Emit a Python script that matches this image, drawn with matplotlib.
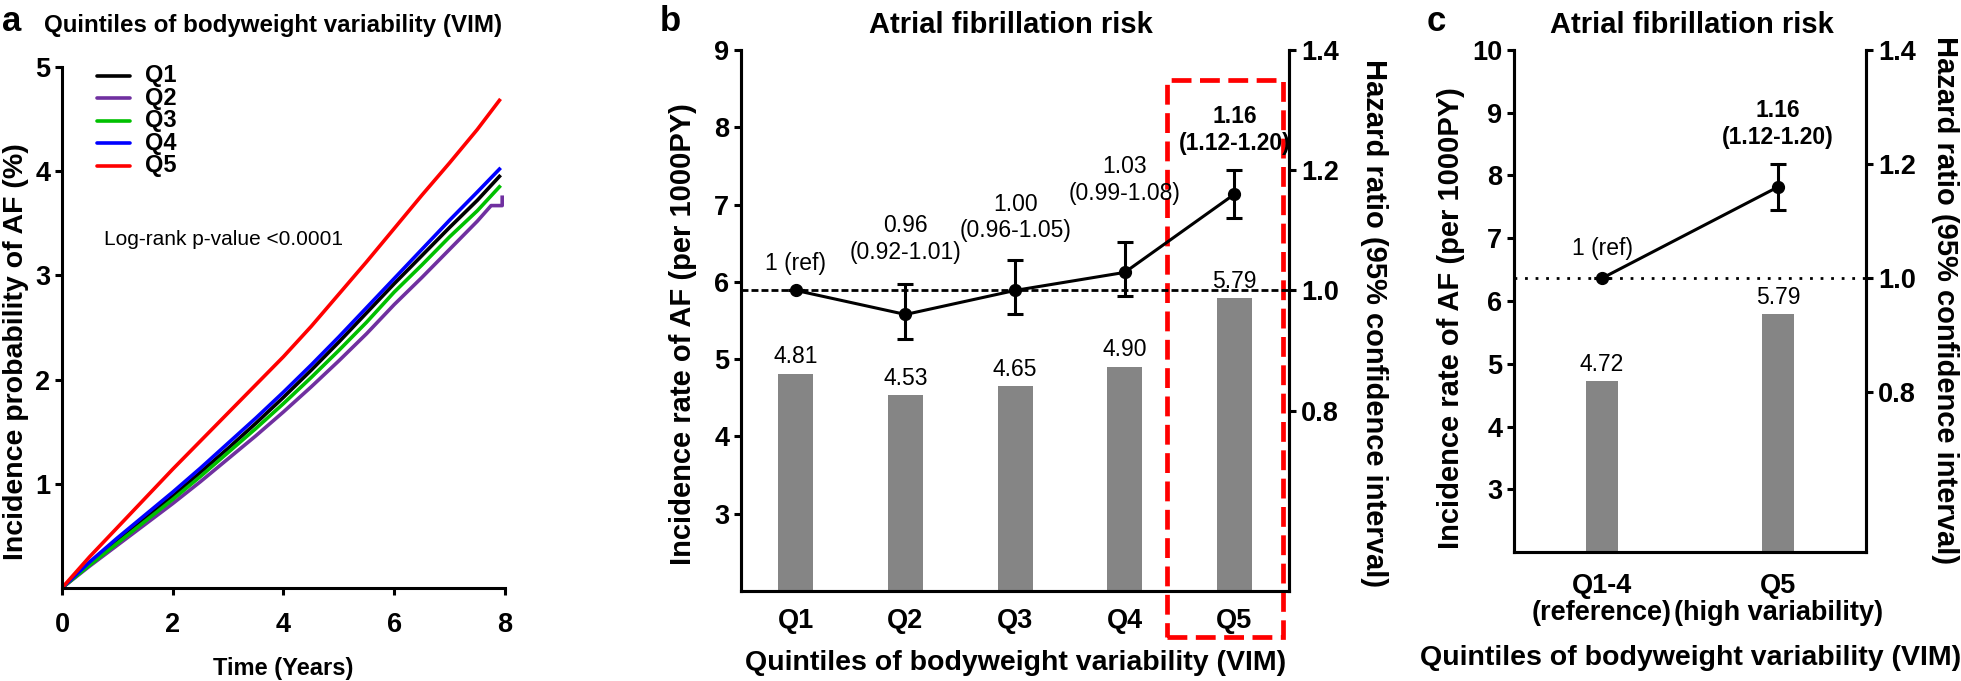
import matplotlib
matplotlib.use("Agg")
import matplotlib.pyplot as plt
from matplotlib.patches import Rectangle

# ---- panel a: cumulative incidence (%)
years = [0, 0.5, 1, 1.5, 2, 2.5, 3, 3.5, 4, 4.5, 5, 5.5, 6, 6.5, 7, 7.5, 7.9]
q1_inc = [0, 0.23, 0.45, 0.67, 0.88, 1.11, 1.34, 1.58, 1.83, 2.09, 2.36, 2.64, 2.92, 3.19, 3.46, 3.72, 3.95]
q3_inc = [0, 0.22, 0.43, 0.64, 0.85, 1.07, 1.30, 1.53, 1.77, 2.02, 2.28, 2.55, 2.84, 3.10, 3.37, 3.62, 3.85]
q4_inc = [0, 0.25, 0.48, 0.70, 0.92, 1.15, 1.39, 1.63, 1.88, 2.14, 2.41, 2.69, 2.97, 3.25, 3.53, 3.80, 4.02]
q5_inc = [0, 0.30, 0.58, 0.86, 1.14, 1.41, 1.68, 1.95, 2.22, 2.51, 2.82, 3.13, 3.45, 3.77, 4.08, 4.40, 4.68]
q2_years = [0, 0.5, 1, 1.5, 2, 2.5, 3, 3.5, 4, 4.5, 5, 5.5, 6, 6.5, 7, 7.5, 7.75, 7.95, 7.95]
q2_inc = [0, 0.21, 0.41, 0.61, 0.81, 1.02, 1.24, 1.46, 1.69, 1.93, 2.18, 2.44, 2.72, 2.98, 3.25, 3.52, 3.67, 3.67, 3.75]
curve_names = ["Q1", "Q2", "Q3", "Q4", "Q5"]
curve_colors = ["black", "#7030a0", "#00c000", "#0000ff", "#ff0000"]

# ---- panel b: quintiles
quintiles = ["Q1", "Q2", "Q3", "Q4", "Q5"]
rate_b = [4.81, 4.53, 4.65, 4.90, 5.79]
hr_b = [1.00, 0.96, 1.00, 1.03, 1.16]
hr_lo_b = [1.00, 0.92, 0.96, 0.99, 1.12]
hr_hi_b = [1.00, 1.01, 1.05, 1.08, 1.20]
hr_text_b = ["1 (ref)", "0.96\n(0.92-1.01)", "1.00\n(0.96-1.05)", "1.03\n(0.99-1.08)", "1.16\n(1.12-1.20)"]

# ---- panel c: Q1-4 vs Q5
groups_c = ["Q1-4\n(reference)", "Q5\n(high variability)"]
rate_c = [4.72, 5.79]
hr_c = [1.00, 1.16]
hr_lo_c = [1.00, 1.12]
hr_hi_c = [1.00, 1.20]
hr_text_c = ["1 (ref)", "1.16\n(1.12-1.20)"]

plt.rcParams["font.family"] = ["Liberation Sans", "DejaVu Sans"]
plt.rcParams["axes.linewidth"] = 2.2

fig = plt.figure(figsize=(19.61, 6.81), dpi=100)


def style_ticks(ax, size=19.5):
    ax.tick_params(width=2.2, length=5, direction="out")
    for lab in ax.get_xticklabels() + ax.get_yticklabels():
        lab.set_fontweight("bold")
        lab.set_fontsize(size)


def place_ylabel(ax, x, y):
    ax.yaxis.label.set_verticalalignment("center")
    ax.yaxis.set_label_coords(x, y)


# ================= panel a
ax_a = fig.add_axes([0.0316, 0.1366, 0.2259, 0.765])
for t, v, col in zip([years, q2_years, years, years, years],
                     [q1_inc, q2_inc, q3_inc, q4_inc, q5_inc], curve_colors):
    ax_a.plot(t, v, color=col, lw=2.6)
ax_a.set_xlim(0, 8)
ax_a.set_ylim(0, 5)
ax_a.set_xticks([0, 2, 4, 6, 8])
ax_a.set_yticks([1, 2, 3, 4, 5])
ax_a.spines[["top", "right"]].set_visible(False)
style_ticks(ax_a)
ax_a.tick_params(axis="x", pad=12)
ax_a.set_xlabel("Time (Years)", fontsize=17, fontweight="bold", labelpad=14)
ax_a.set_ylabel("Incidence probability of AF (%)", fontsize=20.5, fontweight="bold")
place_ylabel(ax_a, -0.104, 0.453)

# legend drawn as short colour strokes with labels
for i, (name, col) in enumerate(zip(curve_names, curve_colors)):
    yy = 0.983 - i * 0.0432
    ax_a.plot([0.079, 0.153], [yy, yy], color=col, lw=2.6, transform=ax_a.transAxes,
              clip_on=False, solid_capstyle="round")
    ax_a.text(0.187, yy, name, transform=ax_a.transAxes, fontsize=17, fontweight="bold",
              va="center")
ax_a.text(0.095, 0.668, "Log-rank p-value <0.0001", transform=ax_a.transAxes, fontsize=15,
          va="center")
fig.text(0.006, 0.968, "a", fontsize=25, fontweight="bold", va="center", ha="center")
fig.text(0.139, 0.963, "Quintiles of bodyweight variability (VIM)", fontsize=17.4,
         fontweight="bold", ha="center", va="center")


def risk_panel(rect, labels, rates, hr, lo, hi, texts, ylim_left, ylim_right, yticks_left,
               bar_width, dot_style, text_offsets, label_x, label_y):
    ax = fig.add_axes(rect)
    pos = list(range(1, len(labels) + 1))
    ax.bar(pos, [r - ylim_left[0] for r in rates], bottom=ylim_left[0], width=bar_width,
           color="#858585", zorder=1)
    for p, r in zip(pos, rates):
        ax.annotate(f"{r:.2f}", (p, r), xytext=(0, 4), textcoords="offset points",
                    ha="center", va="bottom", fontsize=16.5)
    ax.set_xlim(0.5, len(labels) + 0.5)
    ax.set_ylim(*ylim_left)
    ax.set_yticks(yticks_left)
    ax.set_xticks(pos)
    ax.set_xticklabels(labels, linespacing=1.05)
    ax.spines["top"].set_visible(False)
    style_ticks(ax)
    ax.tick_params(axis="x", length=0, pad=12)
    ax.set_ylabel("Incidence rate of AF (per 1000PY)", fontsize=21, fontweight="bold")
    place_ylabel(ax, label_x[0], label_y[0])
    ax.set_xlabel("Quintiles of bodyweight variability (VIM)", fontsize=20.5, fontweight="bold",
                  labelpad=12)

    ax2 = ax.twinx()
    ax2.set_ylim(*ylim_right)
    ax2.set_yticks([0.8, 1.0, 1.2, 1.4])
    ax2.set_yticklabels(["0.8", "1.0", "1.2", "1.4"])
    ax2.spines["top"].set_visible(False)
    style_ticks(ax2)
    ax2.set_ylabel("Hazard ratio (95% confidence interval)", fontsize=21, fontweight="bold",
                   rotation=270)
    place_ylabel(ax2, label_x[1], label_y[1])
    ax2.axhline(1.0, color="black", lw=2, ls=dot_style, zorder=2)
    err = [[h - l for h, l in zip(hr, lo)], [u - h for h, u in zip(hr, hi)]]
    ax2.errorbar(pos, hr, yerr=err, color="black", lw=2.2, marker="o", ms=8.5,
                 capsize=6, capthick=2.2, elinewidth=2.2, zorder=3)
    for i, (p, txt) in enumerate(zip(pos, texts)):
        bold = i == len(pos) - 1
        ax2.annotate(txt, (p, hi[i]), xytext=(0, text_offsets[i]), textcoords="offset points",
                     ha="center", va="bottom", fontsize=16.5,
                     fontweight="bold" if bold else "normal", linespacing=1.2)
    return ax, ax2


ax_b, ax_b2 = risk_panel([0.3779, 0.1322, 0.2795, 0.7944], quintiles, rate_b, hr_b, hr_lo_b,
                         hr_hi_b, hr_text_b, (2, 9), (0.5, 1.4), [3, 4, 5, 6, 7, 8, 9], 0.32,
                         (0, (2.5, 1.1)), [11, 15, 13, 27, 11], (-0.106, 1.155), (0.475, 0.495))
fig.text(0.3417, 0.968, "b", fontsize=25, fontweight="bold", va="center", ha="center")
fig.text(0.5156, 0.963, "Atrial fibrillation risk", fontsize=21, fontweight="bold",
         ha="center", va="center")

# dashed red box around Q5
q5 = quintiles.index("Q5") + 1
box = Rectangle((q5 - 0.61, 1.4), 1.055, 7.21, transform=ax_b.transData, fill=False,
                edgecolor="#ff0000", lw=3.4, ls=(0, (4.2, 1.8)), clip_on=False, zorder=5)
ax_b.add_patch(box)

ax_c, ax_c2 = risk_panel([0.7721, 0.1894, 0.1795, 0.7372], groups_c, rate_c, hr_c, hr_lo_c,
                         hr_hi_c, hr_text_c, (2, 10), (0.52, 1.4), [3, 4, 5, 6, 7, 8, 9, 10], 0.18,
                         (0, (1, 2.8)), [13, 11], (-0.179, 1.224), (0.466, 0.502))
ax_c.tick_params(axis="x", pad=15)
ax_c.xaxis.labelpad = 14
fig.text(0.7323, 0.968, "c", fontsize=25, fontweight="bold", va="center", ha="center")
fig.text(0.8628, 0.963, "Atrial fibrillation risk", fontsize=21, fontweight="bold",
         ha="center", va="center")

fig.savefig("out.png", dpi=100)
